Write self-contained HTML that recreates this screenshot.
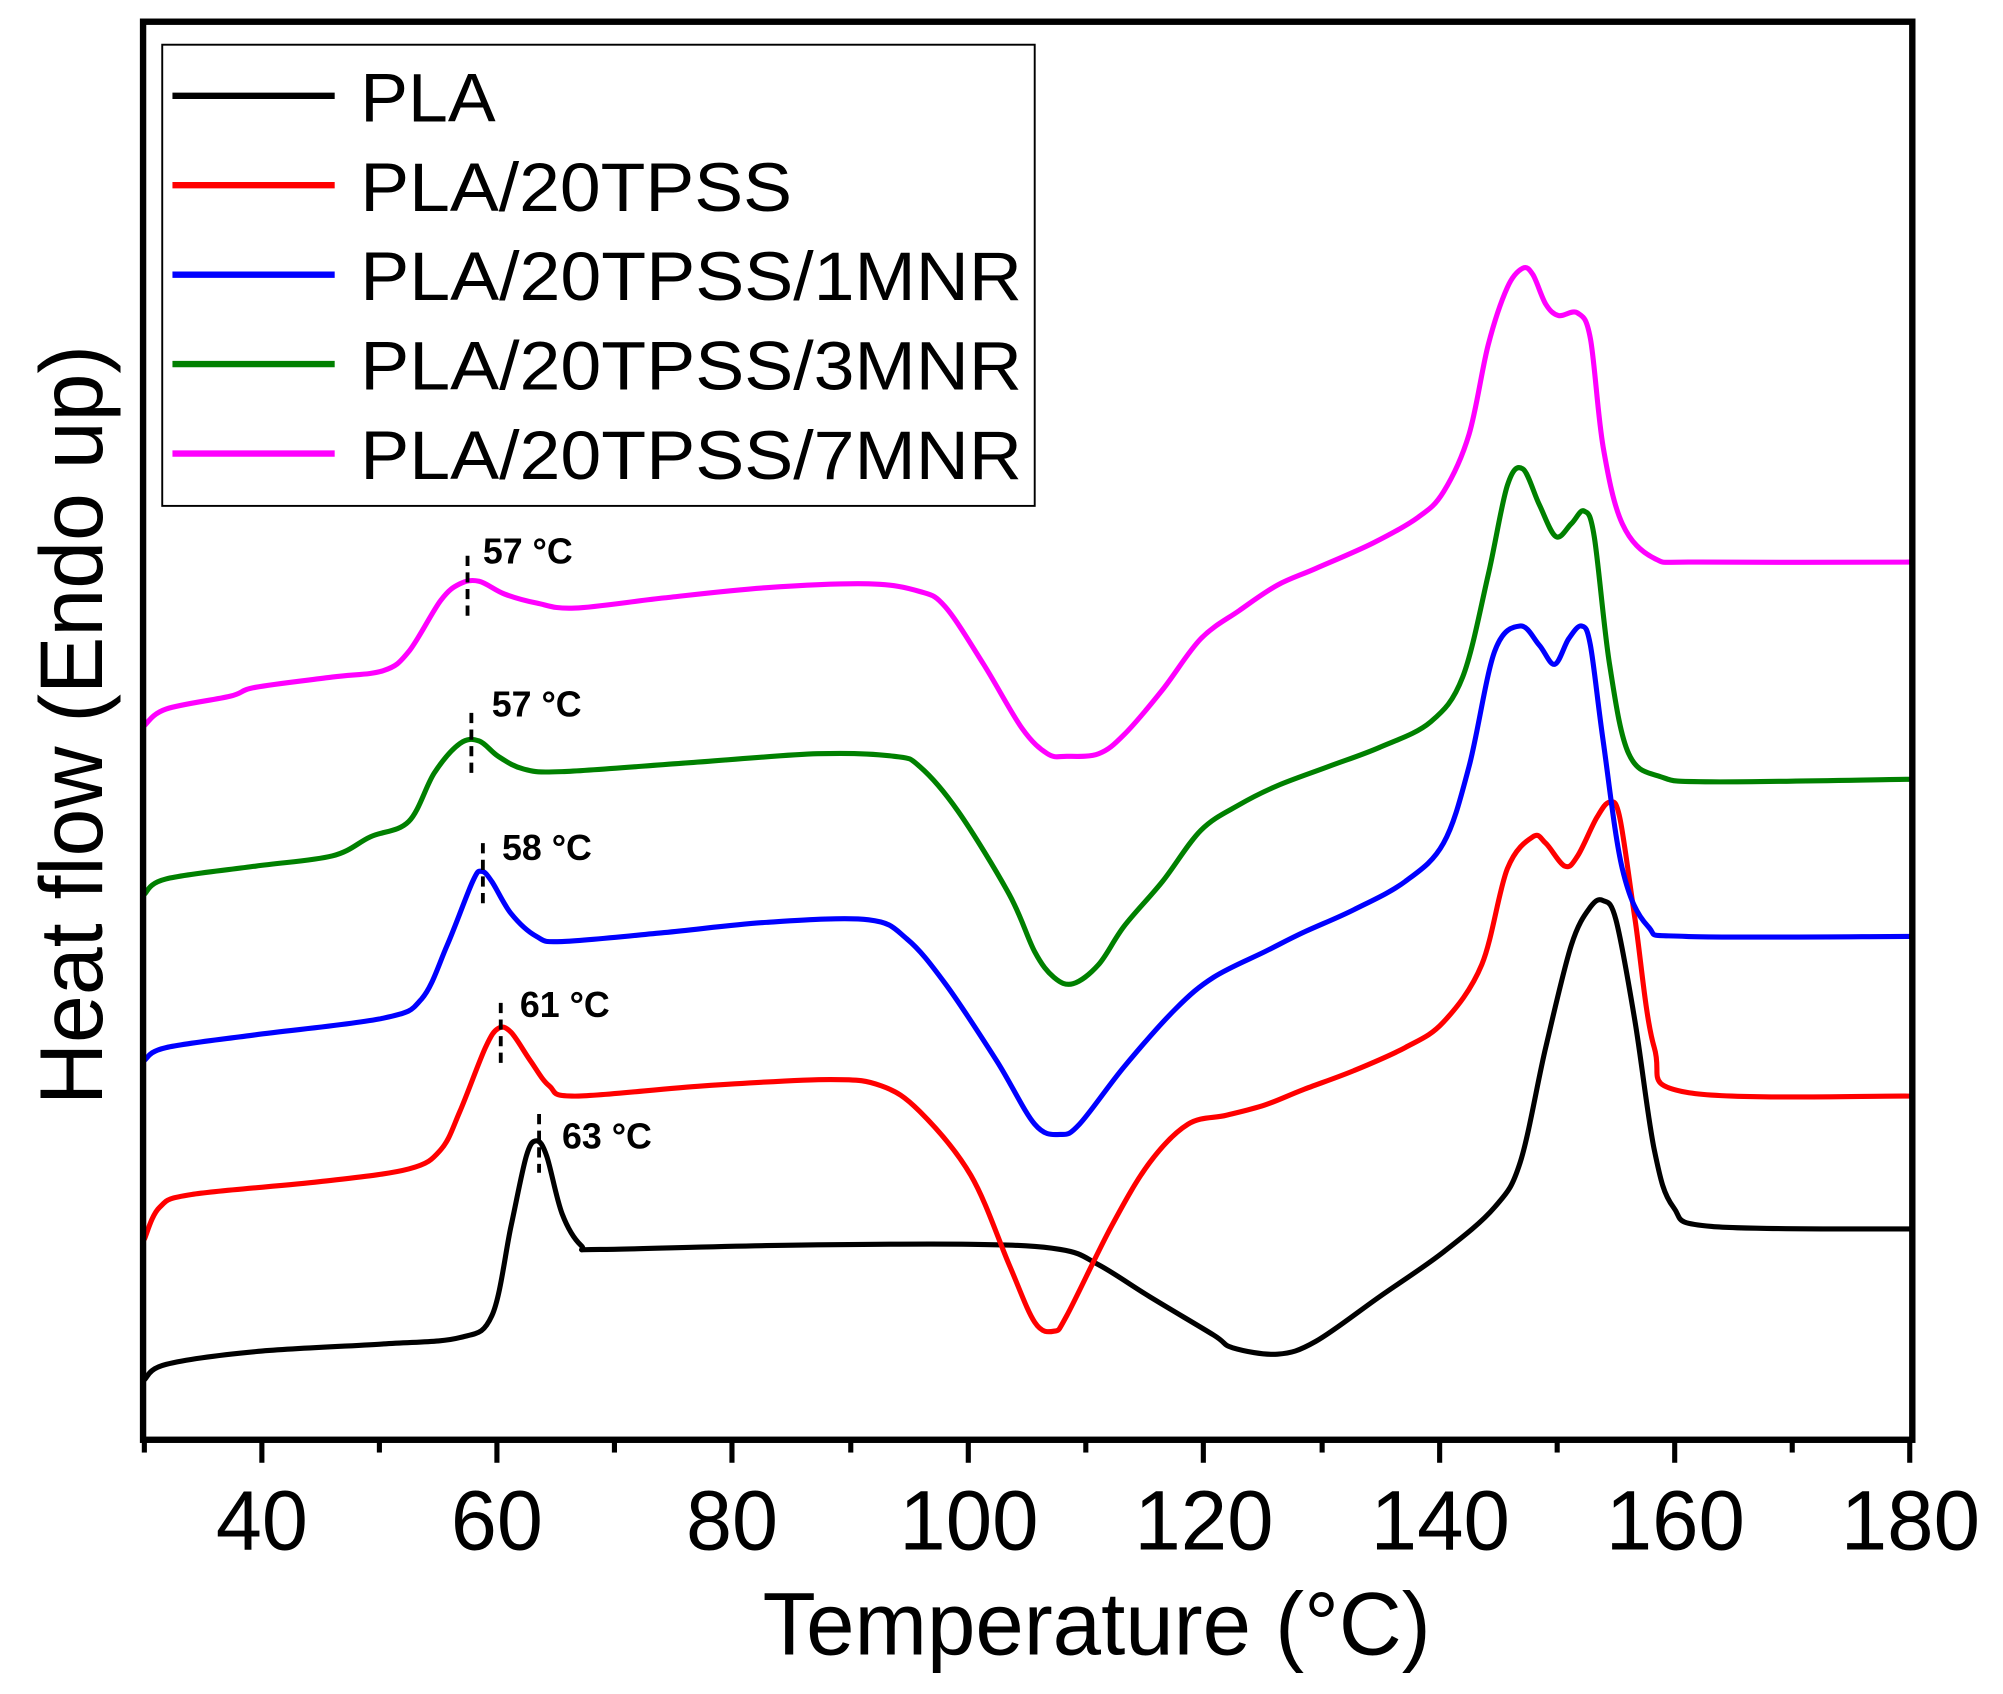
<!DOCTYPE html>
<html><head><meta charset="utf-8"><style>html,body{margin:0;padding:0;background:#fff}svg{display:block}</style></head>
<body>
<svg id="s" width="2003" height="1694" viewBox="0 0 1568 1326" preserveAspectRatio="none" xmlns="http://www.w3.org/2000/svg" font-family="Liberation Sans, Arial, sans-serif">
<rect x="0" y="0" width="1568" height="1326" fill="#fff"/>
<g id="curves" fill="none" stroke-width="4" stroke-linejoin="round" stroke-linecap="round">
<path stroke="#000" data-p="113,1080 130,1068 200,1058 300,1052 360,1047 385,1030 400,960 412,905 420,893 428,905 440,950 455,975 470,978 600,975 760,974 830,978 860,990 900,1015 950,1045 965,1055 1000,1060 1030,1050 1080,1015 1130,980 1170,945 1190,910 1210,820 1230,740 1245,710 1255,705 1265,720 1280,800 1295,900 1310,945 1340,960 1495,962"/>
<path stroke="#ff0000" data-p="113,970 125,945 150,935 250,925 320,915 345,900 360,870 380,820 390,805 400,808 415,830 430,850 450,858 550,850 650,845 690,850 720,870 760,920 790,990 810,1035 825,1042 835,1030 870,960 900,910 930,880 960,873 990,865 1020,853 1060,838 1100,820 1130,800 1160,755 1180,680 1200,655 1210,660 1225,678 1235,670 1250,640 1260,628 1268,640 1280,720 1295,820 1320,855 1495,858"/>
<path stroke="#0000ff" data-p="113,830 130,820 200,810 300,797 330,782 350,740 370,690 377,682 385,690 400,715 420,733 440,737 520,730 600,722 680,720 710,735 740,770 780,830 810,880 830,888 845,880 880,835 920,790 950,765 990,745 1020,730 1060,712 1100,690 1130,660 1150,600 1170,510 1190,490 1205,505 1217,520 1228,500 1238,490 1245,505 1255,580 1270,680 1290,725 1320,733 1495,733"/>
<path stroke="#008000" data-p="113,700 130,688 200,678 260,670 290,655 320,643 340,605 360,582 375,580 390,592 410,602 440,604 540,597 640,590 700,592 720,600 750,635 790,700 810,745 825,765 840,770 860,755 880,725 910,690 940,650 970,630 1000,615 1040,600 1080,585 1120,565 1145,530 1165,450 1180,380 1192,367 1205,395 1218,420 1230,410 1240,400 1248,420 1260,520 1275,590 1300,608 1340,612 1495,610"/>
<path stroke="#ff00ff" data-p="113,568 130,555 180,545 200,538 260,530 300,525 320,510 345,470 360,457 375,455 395,465 420,472 450,476 520,468 600,460 680,457 720,463 740,475 770,520 800,570 820,590 835,592 860,590 880,575 910,540 940,500 970,478 1000,458 1030,445 1075,425 1110,405 1130,385 1150,340 1165,270 1180,225 1192,210 1200,215 1210,238 1220,247 1235,245 1245,265 1255,350 1270,410 1295,437 1330,440 1495,440"/>
</g>
<g stroke="#000" stroke-width="3" stroke-dasharray="8,5">
<line x1="366" y1="435" x2="366" y2="483"/>
<line x1="369" y1="558" x2="369" y2="605"/>
<line x1="378" y1="660" x2="378" y2="708"/>
<line x1="392" y1="785" x2="392" y2="833"/>
<line x1="422" y1="872" x2="422" y2="918"/>
</g>
<g font-size="28" font-weight="bold" fill="#000">
<text x="378" y="441">57 °C</text>
<text x="385" y="561">57 °C</text>
<text x="393" y="673">58 °C</text>
<text x="407" y="796">61 °C</text>
<text x="440" y="899">63 °C</text>
</g>
<rect x="112" y="17" width="1385" height="1110" fill="none" stroke="#000" stroke-width="5"/>
<g stroke="#000" stroke-width="4">
<line x1="205" y1="1127" x2="205" y2="1145"/><line x1="389" y1="1127" x2="389" y2="1145"/><line x1="573" y1="1127" x2="573" y2="1145"/><line x1="758" y1="1127" x2="758" y2="1145"/><line x1="942" y1="1127" x2="942" y2="1145"/><line x1="1127" y1="1127" x2="1127" y2="1145"/><line x1="1311" y1="1127" x2="1311" y2="1145"/><line x1="1495" y1="1127" x2="1495" y2="1145"/>
<line x1="113" y1="1127" x2="113" y2="1137"/><line x1="297" y1="1127" x2="297" y2="1137"/><line x1="481" y1="1127" x2="481" y2="1137"/><line x1="666" y1="1127" x2="666" y2="1137"/><line x1="850" y1="1127" x2="850" y2="1137"/><line x1="1035" y1="1127" x2="1035" y2="1137"/><line x1="1219" y1="1127" x2="1219" y2="1137"/><line x1="1403" y1="1127" x2="1403" y2="1137"/>
</g>
<g font-size="66" fill="#000" lengthAdjust="spacingAndGlyphs">
<text x="169" y="1213" textLength="72" lengthAdjust="spacingAndGlyphs">40</text>
<text x="353" y="1213" textLength="72" lengthAdjust="spacingAndGlyphs">60</text>
<text x="537" y="1213" textLength="72" lengthAdjust="spacingAndGlyphs">80</text>
<text x="704" y="1213" textLength="109" lengthAdjust="spacingAndGlyphs">100</text>
<text x="888" y="1213" textLength="109" lengthAdjust="spacingAndGlyphs">120</text>
<text x="1073" y="1213" textLength="109" lengthAdjust="spacingAndGlyphs">140</text>
<text x="1257" y="1213" textLength="109" lengthAdjust="spacingAndGlyphs">160</text>
<text x="1441" y="1213" textLength="109" lengthAdjust="spacingAndGlyphs">180</text>
</g>
<text x="597" y="1295" font-size="70" textLength="523" lengthAdjust="spacingAndGlyphs">Temperature (°C)</text>
<text transform="translate(80,865) rotate(-90)" font-size="70" textLength="595" lengthAdjust="spacingAndGlyphs">Heat flow (Endo up)</text>
<rect x="127" y="35" width="683" height="361" fill="#fff" stroke="#000" stroke-width="1.5"/>
<g stroke-width="5">
<line x1="135" y1="75" x2="262" y2="75" stroke="#000"/>
<line x1="135" y1="145" x2="262" y2="145" stroke="#ff0000"/>
<line x1="135" y1="215" x2="262" y2="215" stroke="#0000ff"/>
<line x1="135" y1="285" x2="262" y2="285" stroke="#008000"/>
<line x1="135" y1="355" x2="262" y2="355" stroke="#ff00ff"/>
</g>
<g font-size="54" fill="#000">
<text x="282" y="95" textLength="106" lengthAdjust="spacingAndGlyphs">PLA</text>
<text x="282" y="165" textLength="338" lengthAdjust="spacingAndGlyphs">PLA/20TPSS</text>
<text x="282" y="235" textLength="518" lengthAdjust="spacingAndGlyphs">PLA/20TPSS/1MNR</text>
<text x="282" y="305" textLength="518" lengthAdjust="spacingAndGlyphs">PLA/20TPSS/3MNR</text>
<text x="282" y="375" textLength="518" lengthAdjust="spacingAndGlyphs">PLA/20TPSS/7MNR</text>
</g>
</svg>
<script>
document.querySelectorAll('#curves path').forEach(function(el){
  var p=el.getAttribute('data-p').trim().split(/\s+/).map(function(s){return s.split(',').map(Number);});
  var d='M'+p[0][0]+','+p[0][1];
  for(var i=0;i<p.length-1;i++){
    var p0=p[i>0?i-1:i],p1=p[i],p2=p[i+1],p3=p[i+2<p.length?i+2:i+1];
    var c1x=p1[0]+(p2[0]-p0[0])/6,c1y=p1[1]+(p2[1]-p0[1])/6;
    var c2x=p2[0]-(p3[0]-p1[0])/6,c2y=p2[1]-(p3[1]-p1[1])/6;
    d+=' C'+c1x.toFixed(1)+','+c1y.toFixed(1)+' '+c2x.toFixed(1)+','+c2y.toFixed(1)+' '+p2[0]+','+p2[1];
  }
  el.setAttribute('d',d);
  el.removeAttribute('data-p');
});
</script>
</body></html>
